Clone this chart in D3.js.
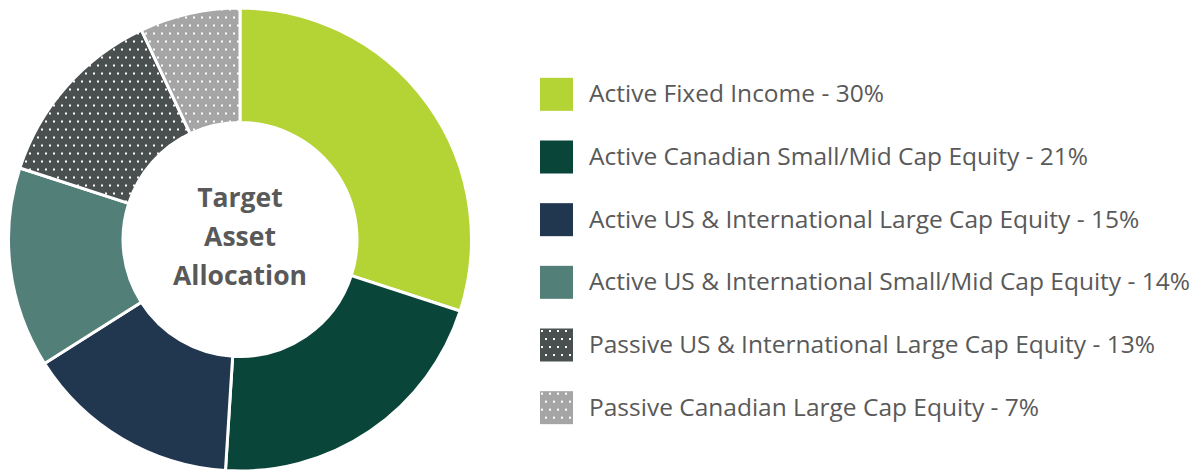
<!DOCTYPE html>
<html>
<head>
    <meta charset="utf-8">
    <title>Target Asset Allocation</title>
    <style>
        body { margin: 0; background: #fff; }
        text { font-family: "Open Sans", sans-serif; fill: #595959; }
    </style>
    <script src="https://d3js.org/d3.v7.min.js"></script>
</head>
<body>
    <script>
        // data
        let categories = [
            "Active Fixed Income",
            "Active Canadian Small/Mid Cap Equity",
            "Active US & International Large Cap Equity",
            "Active US & International Small/Mid Cap Equity",
            "Passive US & International Large Cap Equity",
            "Passive Canadian Large Cap Equity"
        ];
        let values = [30, 21, 15, 14, 13, 7];
        let colors = ["#b4d334", "#0a453a", "#21364f", "#527f78", "#4a4f4f", "#a5a5a5"];
        let dotted = [false, false, false, false, true, true];
        let centerTitle = ["Target", "Asset", "Allocation"];

        let width = 1203;
        let height = 473;
        let cx = 240, cy = 239.5;
        let outerR = 231.5, innerR = 117;

        let svg = d3.select("body")
            .append("svg")
            .attr("width", width)
            .attr("height", height);

        let defs = svg.append("defs");
        colors.forEach(function (c, i) {
            if (!dotted[i]) return;
            let p = defs.append("pattern")
                .attr("id", "dots" + i)
                .attr("patternUnits", "userSpaceOnUse")
                .attr("width", 8)
                .attr("height", 16);
            p.append("rect").attr("width", 8).attr("height", 16).attr("fill", c);
            p.append("rect").attr("x", 1).attr("y", 1).attr("width", 2).attr("height", 2).attr("fill", "#fff");
            p.append("rect").attr("x", 5).attr("y", 9).attr("width", 2).attr("height", 2).attr("fill", "#fff");
        });

        function fillOf(i) {
            return dotted[i] ? "url(#dots" + i + ")" : colors[i];
        }

        let pie = d3.pie().sort(null).value(function (d) { return d; });
        let arc = d3.arc().innerRadius(innerR).outerRadius(outerR);

        let g = svg.append("g").attr("transform", `translate(${cx}, ${cy})`);
        g.selectAll("path")
            .data(pie(values))
            .enter()
            .append("path")
            .attr("d", arc)
            .attr("fill", function (d, i) { return fillOf(i); })
            .attr("stroke", "#fff")
            .attr("stroke-width", 3)
            .attr("stroke-linejoin", "miter");

        g.selectAll("text.title")
            .data(centerTitle)
            .enter()
            .append("text")
            .attr("class", "title")
            .attr("text-anchor", "middle")
            .attr("x", 0)
            .attr("y", function (d, i) { return -32.5 + i * 39; })
            .style("font-size", "26.5px")
            .style("font-weight", "bold")
            .text(function (d) { return d; });

        // legend
        let y = d3.scaleBand()
            .domain(categories)
            .range([63, 439]);

        let legend = svg.append("g");
        let rows = legend.selectAll("g")
            .data(categories)
            .enter()
            .append("g")
            .attr("transform", function (d) { return `translate(540, ${y(d) + y.bandwidth() / 2})`; });

        rows.append("rect")
            .attr("x", 0)
            .attr("y", -16.5)
            .attr("width", 33)
            .attr("height", 33)
            .attr("fill", function (d, i) { return fillOf(i); });

        rows.append("text")
            .attr("x", 49)
            .attr("y", 8)
            .style("font-size", "24.5px")
            .text(function (d, i) { return d + " - " + values[i] + "%"; });
    </script>
</body>
</html>
